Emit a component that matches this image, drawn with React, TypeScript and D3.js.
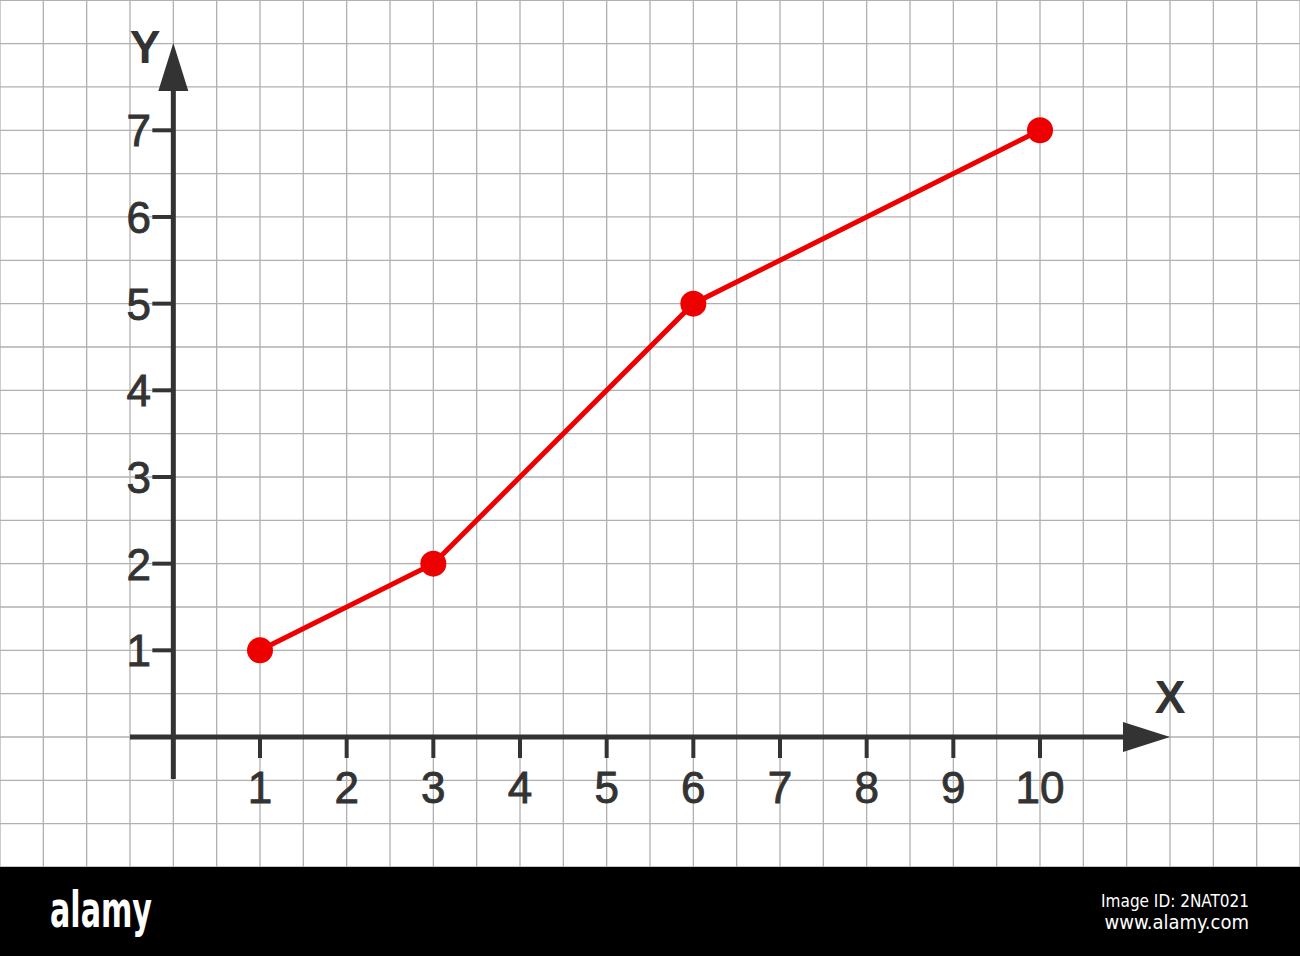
import React from "react";
import * as d3 from "d3";

const xValues = [1, 3, 6, 10];
const yValues = [1, 2, 5, 7];
const xTickLabels = ["1", "2", "3", "4", "5", "6", "7", "8", "9", "10"];
const yTickLabels = ["1", "2", "3", "4", "5", "6", "7"];
const xAxisLabel = "X";
const yAxisLabel = "Y";
const footerLogo = "alamy";
const footerId = "Image ID: 2NAT021";
const footerUrl = "www.alamy.com";

const W = 1300;
const H = 956;
const GRID_BOTTOM = 867;

export default function App() {
  const x = d3.scaleLinear().domain([0, 10]).range([173.33, 1040]);
  const y = d3.scaleLinear().domain([0, 7]).range([737, 130.3]);
  const axis = "#333333";
  const font = "'Liberation Sans', Arial, sans-serif";

  const gridX = d3.range(-4, 27).map((n) => x(n / 2));
  const gridY = d3.range(-3, 18).map((n) => y(n / 2));

  const pts = xValues.map((v, i) => [x(v), y(yValues[i])] as [number, number]);
  const line = d3.line()(pts) || "";

  const ox = x(0);
  const oy = y(0);

  return (
    <svg
      width={W}
      height={H}
      style={{ position: "absolute", left: 0, top: 0, display: "block" }}
    >
      <rect x={0} y={0} width={W} height={H} fill="#ffffff" />
      <g stroke="#b0b0b0" strokeWidth={1.3}>
        {gridX.map((gx, i) => (
          <line key={"gx" + i} x1={gx} x2={gx} y1={0} y2={GRID_BOTTOM} />
        ))}
        {gridY.map((gy, i) => (
          <line key={"gy" + i} x1={0} x2={W} y1={gy} y2={gy} />
        ))}
      </g>

      {/* axes */}
      <g stroke={axis} strokeWidth={5} fill="none">
        <line x1={130} x2={1130} y1={oy} y2={oy} />
        <line x1={ox} x2={ox} y1={779} y2={85} />
      </g>
      <path d={`M1170,${oy} L1123,${oy - 15} L1123,${oy + 15} Z`} fill={axis} />
      <path d={`M${ox},43 L${ox - 15},91 L${ox + 15},91 Z`} fill={axis} />

      {/* ticks */}
      <g stroke={axis} strokeWidth={4}>
        {xTickLabels.map((t, i) => (
          <line key={"xt" + i} x1={x(i + 1)} x2={x(i + 1)} y1={oy} y2={oy + 21} />
        ))}
        {yTickLabels.map((t, i) => (
          <line key={"yt" + i} x1={ox - 21} x2={ox} y1={y(i + 1)} y2={y(i + 1)} />
        ))}
      </g>
      <g fill={axis} stroke={axis} strokeWidth={0.9} fontFamily={font} fontSize={44}>
        {xTickLabels.map((t, i) => (
          <text key={"xl" + i} x={x(i + 1)} y={803} textAnchor="middle">
            {t}
          </text>
        ))}
        {yTickLabels.map((t, i) => (
          <text key={"yl" + i} x={151} y={y(i + 1) + 16} textAnchor="end">
            {t}
          </text>
        ))}
      </g>
      <text x={1170} y={713} textAnchor="middle" fontFamily={font} fontSize={46} fontWeight="bold" fill={axis}>
        {xAxisLabel}
      </text>
      <text x={145} y={63} textAnchor="middle" fontFamily={font} fontSize={46} fontWeight="bold" fill={axis}>
        {yAxisLabel}
      </text>

      {/* data */}
      <path d={line} fill="none" stroke="#ee0000" strokeWidth={5} />
      {pts.map((p, i) => (
        <circle key={"p" + i} cx={p[0]} cy={p[1]} r={13} fill="#ee0000" />
      ))}

      {/* footer */}
      <rect x={0} y={GRID_BOTTOM} width={W} height={H - GRID_BOTTOM} fill="#000000" />
      <text
        x={50}
        y={927}
        fontFamily="'Liberation Sans Narrow', 'DejaVu Sans Condensed', sans-serif"
        fontWeight="bold"
        fontSize={50}
        fill="#ffffff"
        textLength={102}
        lengthAdjust="spacingAndGlyphs"
      >
        {footerLogo}
      </text>
      <text
        x={1249}
        y={907}
        textAnchor="end"
        fontFamily="'Liberation Sans Narrow', 'DejaVu Sans Condensed', sans-serif"
        fontSize={17}
        fill="#ffffff"
      >
        {footerId}
      </text>
      <text
        x={1249}
        y={929}
        textAnchor="end"
        fontFamily="'Liberation Sans Narrow', 'DejaVu Sans Condensed', sans-serif"
        fontSize={20}
        fill="#ffffff"
      >
        {footerUrl}
      </text>
    </svg>
  );
}
